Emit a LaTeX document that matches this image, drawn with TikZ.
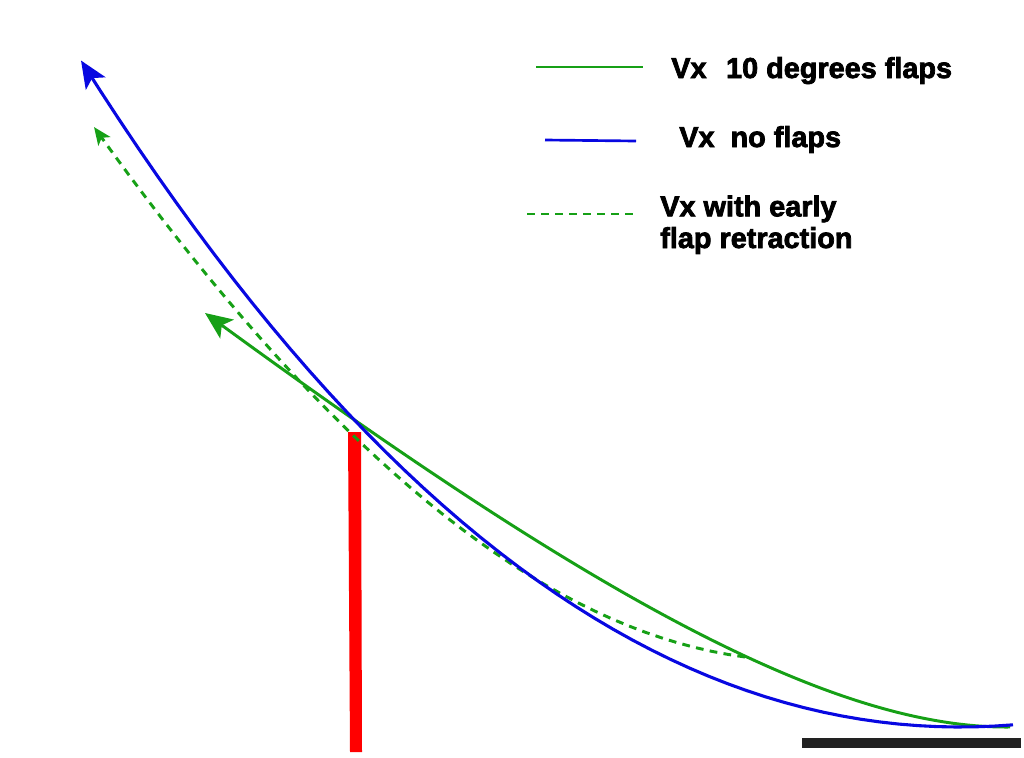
\documentclass[tikz,border=0pt]{standalone}
\usepackage{fontspec}
\newfontfamily\legendfont{Liberation Sans}[BoldFeatures={FakeBold=2.6}]
\definecolor{vxgreen}{RGB}{22,160,22}
\definecolor{vxblue}{RGB}{8,8,225}
\definecolor{vxred}{RGB}{255,0,0}
\definecolor{vxblack}{RGB}{34,34,34}
\usetikzlibrary{arrows.meta}

\begin{document}
\begin{tikzpicture}[x=0.025cm, y=-0.025cm,
    curveblue/.style={draw=vxblue, line width=2.2pt},
    curvegreen/.style={draw=vxgreen, line width=2.1pt},
    curvedash/.style={draw=vxgreen, line width=2.1pt, dash pattern=on 5.5pt off 4.5pt},
    bigtip/.style={-{Stealth[length=6.8mm, width=5.8mm, inset=1.6mm]}},
    smalltip/.style={-{Stealth[length=4.4mm, width=3.7mm, inset=1.1mm]}},
    legendtext/.style={anchor=base west, inner sep=0pt, align=left,
                       font=\legendfont\bfseries\fontsize{20.5}{22.5}\selectfont}
  ]
    \useasboundingbox (0,0) rectangle (1024,757);

    % Red threshold bar
    \fill[vxred] (348,432) -- (361,432) -- (362,752) -- (350,752) -- cycle;
    % Black runway bar
    \fill[vxblack] (802,738) rectangle (1021,748);

    % Vx with early flap retraction (dashed)
    \draw[curvedash, smalltip] plot[domain=7.45:0.94, samples=40]
      ({100*\x}, {127 + 125.27*(\x-0.94) - 8.897*(\x-0.94)*(\x-2.8)
                  - 0.2275*(\x-0.94)*(\x-2.8)*(\x-5.1)});

    % Vx 10 degrees flaps
    \draw[curvegreen, bigtip] (1010,727) .. controls (830,729) and (585,590) .. (205,313);

    % Vx no flaps
    \draw[curveblue, bigtip] plot[domain=-0.53:8.79, samples=50]
      ({960-100*\x}, {727 - 7.8*\x*\x - 0.094*\x*\x*\x});

    % Legend
    \draw[curvegreen, line width=1.9pt] (536,67) -- (643,67);
    \node[legendtext] (leg10) at (671,78) {Vx\hspace{0.68em}10 degrees flaps};

    \draw[curveblue, line width=1.9pt] (545,140) -- (636,141);
    \node[legendtext] (legno) at (679,147) {Vx\ \ no flaps};

    \draw[curvedash, line width=1.9pt] (527,214) -- (636,214);
    \node[legendtext] (legearly) at (660,248) {Vx with early\\flap retraction};
  \end{tikzpicture}
\end{document}
